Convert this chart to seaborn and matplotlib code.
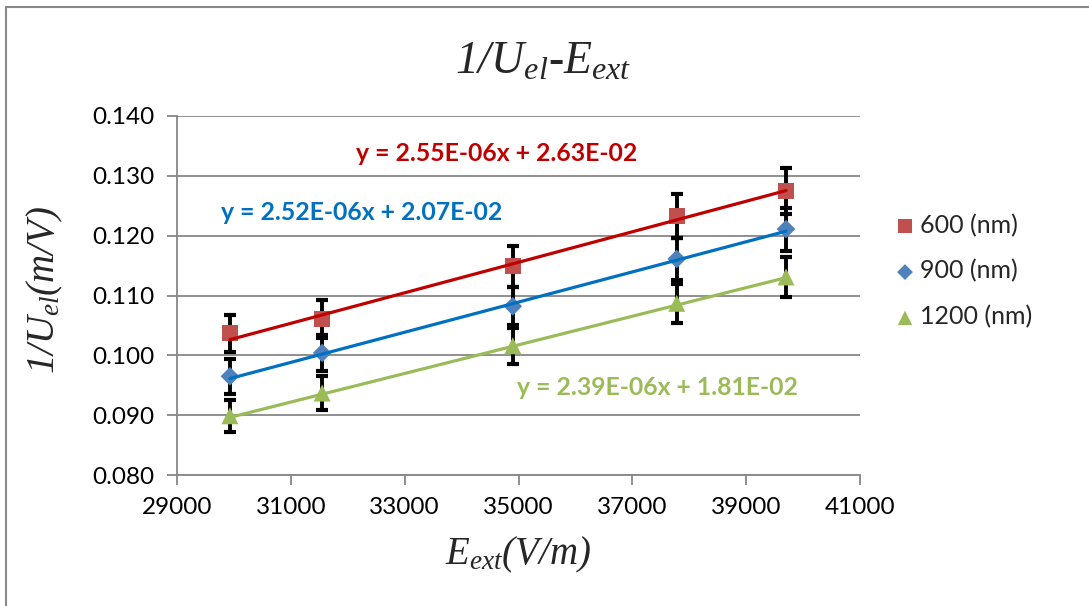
import matplotlib
matplotlib.use("Agg")
import matplotlib.pyplot as plt
import seaborn as sns
import numpy as np
import pandas as pd
from matplotlib.patches import Rectangle

# ---- data ----
e_ext = [29930, 31550, 34900, 37780, 39700]
u600 = [0.1037, 0.1061, 0.1149, 0.1233, 0.1275]
u900 = [0.0965, 0.1004, 0.1082, 0.1161, 0.1211]
u1200 = [0.0899, 0.0937, 0.1016, 0.1087, 0.1131]
err600 = [0.0031, 0.0032, 0.0034, 0.0037, 0.0038]
err900 = [0.0029, 0.0030, 0.0032, 0.0035, 0.0036]
err1200 = [0.0027, 0.0028, 0.0030, 0.0033, 0.0034]
series_labels = ["600 (nm)", "900 (nm)", "1200 (nm)"]
slopes = [2.55e-06, 2.52e-06, 2.39e-06]
intercepts = [2.63e-02, 2.07e-02, 1.81e-02]
equations = ["y = 2.55E-06x + 2.63E-02", "y = 2.52E-06x + 2.07E-02", "y = 2.39E-06x + 1.81E-02"]
x_ticks = [29000, 31000, 33000, 35000, 37000, 39000, 41000]
y_ticks = [0.080, 0.090, 0.100, 0.110, 0.120, 0.130, 0.140]

sns.set_theme(style="white")
plt.rcParams['font.family'] = ['Lato', 'DejaVu Sans']
plt.rcParams['mathtext.fontset'] = 'custom'
plt.rcParams['mathtext.it'] = 'Liberation Serif:italic'
plt.rcParams['mathtext.rm'] = 'Liberation Serif:italic'
plt.rcParams['mathtext.default'] = 'it'

fig = plt.figure(figsize=(10.89, 6.06), dpi=100)
ax = fig.add_axes([177/1089, 1-475/606, (860-177)/1089, (475-116)/606])

marker_cols = ["#C0504D", "#4F81BD", "#9BBB59"]
line_cols = ["#C00000", "#0070C0", "#9BBB59"]
markers = ["s", "D", "^"]
msizes = [140, 90, 150]
ys = [u600, u900, u1200]
errs = [err600, err900, err1200]

grid_col = "#878787"
for yt in y_ticks:
    ax.axhline(yt, color=grid_col, lw=1.3, zorder=0)

for i in range(3):
    ax.errorbar(e_ext, ys[i], yerr=errs[i], fmt='none', ecolor='black',
                elinewidth=2.8, capsize=4.5, capthick=3.0, zorder=2)

for i in range(3):
    df = pd.DataFrame({"x": e_ext, "y": ys[i]})
    sns.scatterplot(data=df, x="x", y="y", marker=markers[i], s=msizes[i],
                    color=marker_cols[i], edgecolor='none', ax=ax, zorder=3,
                    label=series_labels[i])

for i in range(3):
    xs = np.array([e_ext[0], e_ext[-1]])
    dfl = pd.DataFrame({"x": xs, "y": slopes[i] * xs + intercepts[i]})
    sns.lineplot(data=dfl, x="x", y="y", color=line_cols[i], lw=2.3, ax=ax,
                 zorder=4, legend=False)

ax.set_xlim(29000, 41000)
ax.set_ylim(0.080, 0.140)
ax.set_xticks(x_ticks)
ax.set_yticks(y_ticks)
ax.set_xticklabels([str(v) for v in x_ticks])
ax.set_yticklabels([f"{v:.3f}" for v in y_ticks])
ax.tick_params(axis='both', which='major', direction='out', length=7, width=1.3,
               color=grid_col, labelsize=17.5, labelcolor='black', pad=9)
ax.tick_params(axis='x', bottom=True)
ax.tick_params(axis='y', left=True)
for s in ["top", "right"]:
    ax.spines[s].set_visible(False)
for s in ["left", "bottom"]:
    ax.spines[s].set_color(grid_col)
    ax.spines[s].set_linewidth(1.3)
ax.set_xlabel("")
ax.set_ylabel("")

# equations
eq_pos = [(32150, 0.1338), (29774, 0.1238), (34965, 0.0947)]
for i in range(3):
    ax.text(eq_pos[i][0], eq_pos[i][1], equations[i], color=line_cols[i],
            fontsize=17.8, fontweight='bold', ha='left', va='center', zorder=5)

# legend
h, l = ax.get_legend_handles_labels()
leg = ax.legend(h, l, loc='center left', bbox_to_anchor=(870/1089, 1-271/606),
                bbox_transform=fig.transFigure, frameon=False, fontsize=18,
                handletextpad=0.1, labelspacing=0.9, handlelength=1.0,
                markerscale=0.85)

# title & axis labels
fig.text(543/1089, 1-62/606, r'$1/U_{el}$-$E_{ext}$', fontsize=33,
         family='Liberation Serif', style='italic', ha='center', va='center')
fig.text(45/1089, 1-290/606, r'$1/U_{el}(m/V)$', fontsize=28, rotation=90,
         family='Liberation Serif', style='italic', ha='center', va='center')
fig.text(518/1089, 1-555/606, r'$E_{ext}(V/m)$', fontsize=28,
         family='Liberation Serif', style='italic', ha='center', va='center')

# outer chart border
fig.patches.append(Rectangle((6/1089, -0.05), 1.2, 1 - 7/606 + 0.05,
                             transform=fig.transFigure, fill=False,
                             edgecolor='#898989', lw=1.5))

fig.savefig("out.png", dpi=100)
